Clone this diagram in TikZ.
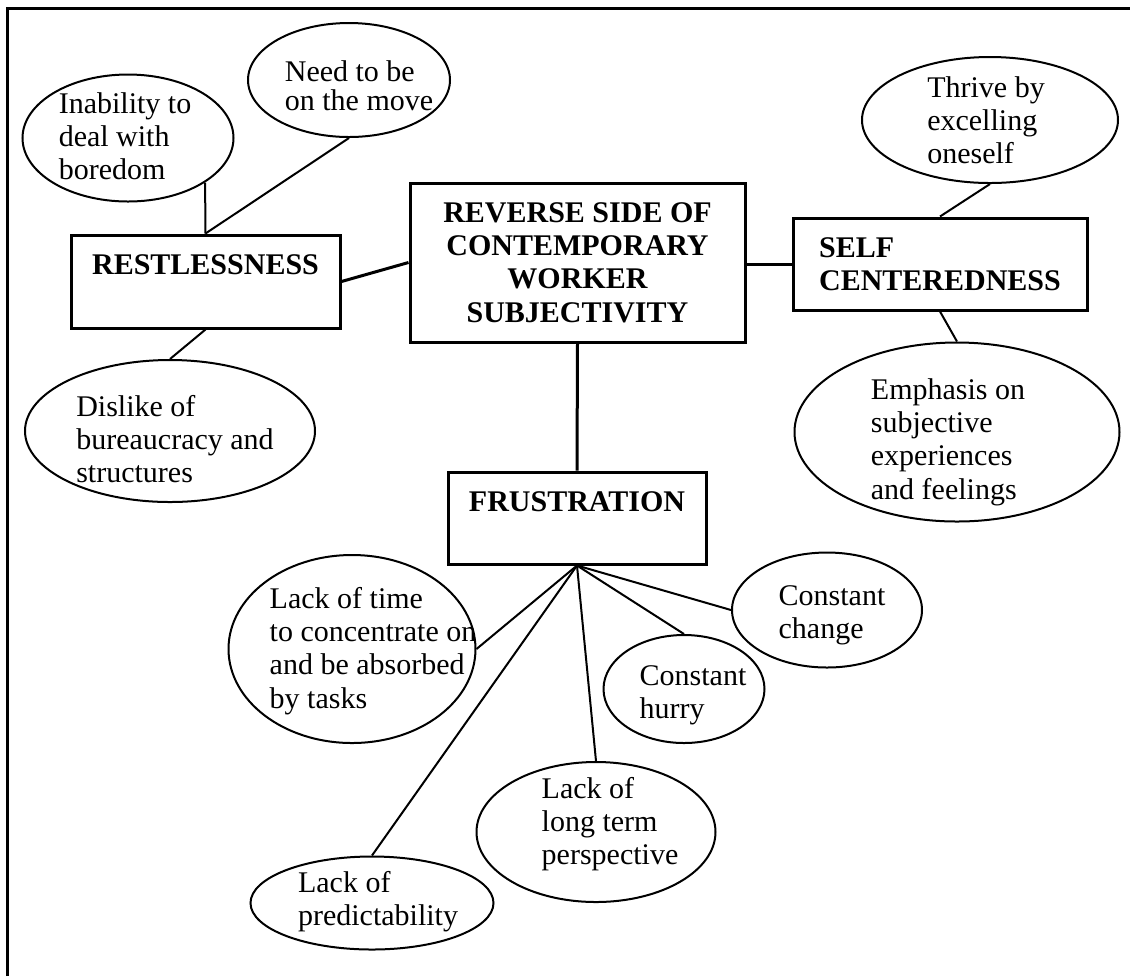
\documentclass[tikz,border=0pt]{standalone}
\usepackage{fontspec}
\setmainfont{Liberation Serif}
\usetikzlibrary{shapes.geometric}

\tikzset{
  topic/.style 2 args={draw, line width=1.2pt, inner sep=0pt,
    minimum width=#1*0.4pt, minimum height=#2*0.4pt,
    font=\bfseries\fontsize{12pt}{13.3pt}\selectfont},
  bubble/.style 2 args={draw, ellipse, line width=0.8pt, inner sep=0pt,
    minimum width=#1*0.4pt, minimum height=#2*0.4pt},
  note/.style={align=left, inner sep=0pt, font=\fontsize{12pt}{13.3pt}\selectfont},
  link/.style={line width=0.8pt},
  mainlink/.style={line width=1.2pt}
}

\begin{document}
\begin{tikzpicture}[x=0.4pt, y=-0.4pt]
    \useasboundingbox (0,0) rectangle (1134,976);
    \draw[line width=1.2pt] (7,976) -- (7,8) -- (1130,8);

    \node[topic={335}{159}, align=center] (core) at (577.5,262.5)
        {REVERSE SIDE OF\\CONTEMPORARY\\WORKER\\SUBJECTIVITY};
    \node[topic={269}{93}, align=center] (rest) at (205.5,281.5) {RESTLESSNESS\\\phantom{X}};
    \node[topic={294}{92}, align=left] (self) at (940,264) {SELF\\CENTEREDNESS};
    \node[topic={258}{92}, align=center] (frust) at (577,518) {FRUSTRATION\\\phantom{X}};

    \node[bubble={211}{127}] (bored) at (128,138) {};
    \node[note] (bored-t) at (125,136) {Inability to\\deal with\\boredom};
    \node[bubble={202}{114}] (move) at (349,80) {};
    \node[note, font=\fontsize{12pt}{11.5pt}\selectfont] (move-t) at (359,86) {Need to be\\on the move};
    \node[bubble={290}{142}] (bureau) at (170,431) {};
    \node[note] (bureau-t) at (175,439) {Dislike of\\bureaucracy and\\structures};

    \node[bubble={256}{126}] (excel) at (990,120) {};
    \node[note] (excel-t) at (986,120) {Thrive by\\excelling\\oneself};
    \node[bubble={325}{179}] (feel) at (957,432) {};
    \node[note] (feel-t) at (948,442) {Emphasis on\\subjective\\experiences\\and feelings};

    \node[bubble={247}{188}] (time) at (352,649) {};
    \node[note] (time-t) at (373,651) {Lack of time\\to concentrate on\\and be absorbed\\by tasks};
    \node[bubble={243}{93}] (predict) at (372,903) {};
    \node[note] (predict-t) at (378,902) {Lack of\\predictability};
    \node[bubble={239}{140}] (longterm) at (596,832) {};
    \node[note] (longterm-t) at (610,824) {Lack of\\long term\\perspective};
    \node[bubble={161}{108}] (hurry) at (684,689) {};
    \node[note] (hurry-t) at (693,695) {Constant\\hurry};
    \node[bubble={190}{115}] (change) at (827,610) {};
    \node[note] (change-t) at (832,615) {Constant\\change};

    \draw[mainlink] (rest.east) -- (core.west);
    \draw[mainlink] (self.west) -- (self.west -| core.east);
    \draw[mainlink] (core.south) -- (frust.north);

    \draw[link] (rest.north) -- (bored.-30);
    \draw[link] (rest.north) -- (move.south);
    \draw[link] (rest.south) -- (bureau.north);
    \draw[link] (self.north) -- (excel.south);
    \draw[link] (self.south) -- (feel.north);

    \draw[link] (frust.south) -- (time.east);
    \draw[link] (frust.south) -- (predict.north);
    \draw[link] (frust.south) -- (longterm.north);
    \draw[link] (frust.south) -- (hurry.north);
    \draw[link] (frust.south) -- (change.west);
\end{tikzpicture}
\end{document}
